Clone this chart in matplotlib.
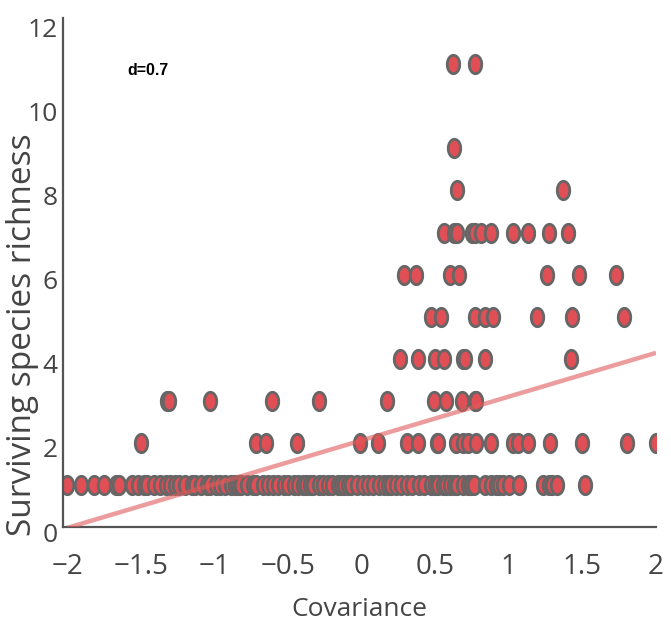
import numpy as np
import matplotlib.pyplot as plt
from matplotlib.transforms import ScaledTranslation

# covariance values of each run, grouped by surviving species richness
rich1_x = [-2.0, -1.91, -1.82, -1.75, -1.67, -1.65, -1.56, -1.52, -1.48, -1.46,
           -1.41, -1.37, -1.33, -1.30, -1.27, -1.24, -1.20, -1.15, -1.13, -1.09,
           -1.05, -1.03, -0.99, -0.96, -0.93, -0.89, -0.86, -0.84, -0.82, -0.78,
           -0.74, -0.72, -0.67, -0.64, -0.60, -0.57, -0.53, -0.50, -0.46, -0.43,
           -0.40, -0.38, -0.35, -0.33, -0.29, -0.26, -0.23, -0.20, -0.16, -0.14,
           -0.12, -0.09, -0.07, -0.03, 0.01, 0.04, 0.08, 0.12, 0.15, 0.18,
           0.20, 0.23, 0.27, 0.31, 0.34, 0.39, 0.42, 0.47, 0.50, 0.52,
           0.55, 0.57, 0.60, 0.63, 0.65, 0.69, 0.72, 0.74, 0.76, 0.84,
           0.88, 0.91, 0.93, 0.96, 1.0, 1.07, 1.23, 1.27, 1.29, 1.33, 1.52]
rich2_x = [-1.5, -0.72, -0.65, -0.44, -0.01, 0.11, 0.31, 0.38, 0.51, 0.52,
           0.64, 0.69, 0.72, 0.78, 0.88, 1.03, 1.06, 1.13, 1.28, 1.5, 1.8, 2.0]
rich3_x = [-1.32, -1.31, -1.03, -0.61, -0.29, 0.17, 0.49, 0.57, 0.68, 0.77, 0.78]
rich4_x = [0.26, 0.38, 0.50, 0.56, 0.69, 0.70, 0.84, 1.42]
rich5_x = [0.47, 0.54, 0.77, 0.84, 0.89, 1.19, 1.43, 1.78]
rich6_x = [0.29, 0.37, 0.60, 0.66, 1.26, 1.48, 1.73]
rich7_x = [0.56, 0.63, 0.65, 0.75, 0.77, 0.81, 0.88, 1.03, 1.13, 1.27, 1.40]
rich8_x = [0.65, 1.37]
rich9_x = [0.63]
rich11_x = [0.62, 0.77]

groups = [(1, rich1_x), (2, rich2_x), (3, rich3_x), (4, rich4_x), (5, rich5_x),
          (6, rich6_x), (7, rich7_x), (8, rich8_x), (9, rich9_x), (11, rich11_x)]

fit_slope = 1.04
fit_intercept = 2.06
d_value = 0.7

xs = []
ys = []
for r, vals in groups:
    xs += vals
    ys += [r] * len(vals)

fig = plt.figure(figsize=(6.71, 6.40), dpi=100)
ax = fig.add_axes([63/671, 1 - 527/640, 593/671, 509/640])

t = np.linspace(0, 2*np.pi, 60)
ell = np.column_stack([0.68*np.cos(t), np.sin(t)])

ax.scatter(xs, ys, marker=ell, s=175, facecolor='#e04f55',
           edgecolor='#666666', linewidths=2.0, zorder=2)

lx = np.array([-2.0, 2.0])
ax.plot(lx, fit_intercept + fit_slope*lx, color='#e05a5a', alpha=0.6,
        lw=3.2, zorder=3, solid_capstyle='butt')

ax.text(-1.45, 10.85, 'd=%.1f' % d_value, fontsize=11.5, fontweight='bold',
        family='Liberation Sans', ha='center', va='center', color='black')

ax.set_xlim(-2.03, 2.0)
ax.set_ylim(0, 12.1)
ax.set_xticks([-2, -1.5, -1, -0.5, 0, 0.5, 1, 1.5, 2])
ax.set_xticklabels(['\u22122', '\u22121.5', '\u22121', '\u22120.5', '0', '0.5', '1', '1.5', '2'])
ax.set_yticks([0, 2, 4, 6, 8, 10, 12])

for s in ['top', 'right']:
    ax.spines[s].set_visible(False)
for s in ['left', 'bottom']:
    ax.spines[s].set_color('#555555')
    ax.spines[s].set_linewidth(1.6)

ax.tick_params(length=0, colors='#444444')
ax.tick_params(axis='x', pad=19, labelsize=20)
ax.tick_params(axis='y', pad=4, labelsize=19)
for lab in ax.get_xticklabels() + ax.get_yticklabels():
    lab.set_family(['Open Sans', 'DejaVu Sans'])
shift = ScaledTranslation(0, -5/100, fig.dpi_scale_trans)
for lab in ax.get_yticklabels():
    lab.set_transform(lab.get_transform() + shift)

ax.set_xlabel('Covariance', fontsize=19, color='#444444', family='Open Sans')
ax.set_ylabel('Surviving species richness', fontsize=24, color='#444444',
              family='Open Sans')
ax.xaxis.set_label_coords(0.5, -0.137)
ax.yaxis.set_label_coords(-0.04, 0.378)

fig.savefig('out.png', dpi=100)
